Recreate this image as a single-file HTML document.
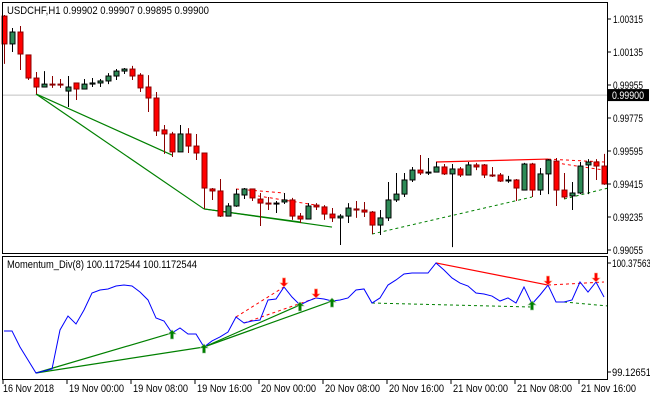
<!DOCTYPE html>
<html><head><meta charset="utf-8"><style>
html,body{margin:0;padding:0;background:#fff;}
svg{display:block;font-family:"Liberation Sans",sans-serif;}
</style></head><body>
<svg id="chart" width="650" height="400" viewBox="0 0 650 400" xmlns="http://www.w3.org/2000/svg">
<rect x="0" y="0" width="650" height="400" fill="#fff"/>
<g id="price-grid"></g>
<g id="ind"></g>
<rect x="2.5" y="2.5" width="605" height="251" fill="none" stroke="#000"/>
<rect x="2.5" y="256.5" width="605" height="123" fill="none" stroke="#000"/>
<text x="7" y="14" font-size="11" fill="#000" textLength="202" lengthAdjust="spacingAndGlyphs">USDCHF,H1  0.99902 0.99907 0.99895 0.99900</text>
<text x="7" y="268" font-size="11" fill="#000" textLength="190" lengthAdjust="spacingAndGlyphs">Momentum_Div(8) 100.1172544 100.1172544</text>
<g id="axes"></g>
</svg>
<script>
const opens=[100331,100179,100244,100119,99993,99944,99960,99960,99922,99966,99933,99960,99966,99977,100004,100031,100042,100009,99944,99884,99710,99688,99590,99688,99622,99584,99388,99377,99240,99295,99355,99388,99333,99311,99311,99317,99328,99240,99224,99300,99290,99251,99230,99240,99279,99273,99262,99191,99230,99328,99360,99437,99491,99480,99480,99508,99470,99497,99464,99519,99519,99464,99464,99437,99437,99382,99524,99382,99470,99540,99382,99350,99366,99519,99535,99513];
const highs=[100337,100266,100277,100119,100026,100031,100004,99988,100004,99966,99988,99993,99988,100020,100042,100048,100059,100020,100009,99917,99737,99699,99737,99720,99688,99584,99393,99442,99311,99388,99393,99388,99366,99344,99322,99366,99339,99257,99311,99311,99300,99284,99251,99311,99322,99317,99268,99273,99426,99475,99475,99508,99573,99557,99535,99524,99524,99508,99535,99530,99524,99508,99475,99459,99442,99530,99530,99502,99551,99557,99475,99426,99535,99551,99551,99579];
const lows=[100070,100135,100037,99982,99906,99944,99939,99939,99835,99873,99933,99944,99944,99960,99982,100015,99982,99917,99808,99677,99579,99562,99590,99584,99546,99279,99328,99235,99240,99290,99333,99322,99186,99273,99257,99306,99219,99202,99224,99273,99219,99208,99082,99202,99230,99235,99142,99137,99213,99317,99344,99426,99464,99464,99480,99464,99071,99453,99464,99491,99448,99453,99426,99421,99322,99382,99344,99355,99360,99295,99333,99273,99360,99360,99437,99410];
const closes=[100179,100244,100124,99993,99944,99960,99955,99955,99944,99933,99960,99966,99977,100004,100031,100042,100004,99939,99884,99704,99688,99590,99688,99622,99584,99393,99377,99240,99295,99360,99388,99339,99311,99306,99311,99328,99240,99224,99295,99290,99251,99230,99240,99284,99273,99262,99191,99230,99328,99360,99437,99491,99475,99480,99508,99470,99497,99464,99519,99508,99464,99459,99431,99437,99393,99524,99382,99470,99546,99382,99344,99366,99513,99535,99513,99415];
const momentum=[99.597,99.597,99.413,99.264,99.115,99.138,99.161,99.608,99.768,99.677,99.837,100.032,100.066,100.078,100.112,100.123,100.112,100.043,99.952,99.745,99.711,99.574,99.631,99.562,99.562,99.413,99.482,99.528,99.585,99.757,99.688,99.711,99.722,99.952,99.963,100.101,99.986,99.895,99.940,99.975,99.963,99.940,99.952,99.975,100.066,100.078,99.917,99.975,100.123,100.181,100.250,100.261,100.261,100.261,100.376,100.295,100.204,100.146,100.112,100.032,100.020,99.997,99.940,99.975,99.917,100.101,99.906,100.009,100.123,99.929,99.929,99.952,100.158,100.043,100.158,99.986];
const priceTicks=[1.00315,1.00135,0.99955,0.99775,0.99595,0.99415,0.99235,0.99055];
const timeLabels=["16 Nov 2018","19 Nov 00:00","19 Nov 08:00","19 Nov 16:00","20 Nov 00:00","20 Nov 08:00","20 Nov 16:00","21 Nov 00:00","21 Nov 08:00","21 Nov 16:00"];
const timeIndex=[0,8,16,24,32,40,48,56,64,72];
const bidPrice=0.99900;
const priceGreenSolid=[[4,0.99906,21,0.99573],[4,0.99906,25,0.99279],[25,0.99279,37,0.99208],[25,0.99279,41,0.99180]];
const priceGreenDash=[[46,0.99142,66,0.99344],[70,0.99333,75.5,0.99393]];
const priceRedDash=[[29,0.99388,35,0.99366],[31,0.99355,39,0.99300],[68,0.99551,75,0.99535],[69,0.99530,75,0.99491]];
const priceRedSolid=[[54,0.99535,68,0.99551]];
const momGreenSolid=[[4,99.115,21,99.574],[4,99.115,25,99.413],[25,99.413,37,99.895],[25,99.413,41,99.940]];
const momGreenDash=[[46,99.917,66,99.871],[70,99.929,75.5,99.883]];
const momRedDash=[[29,99.757,35,100.101],[30,99.688,39,99.975],[68,100.123,75,100.158]];
const momRedSolid=[[54,100.376,68,100.123]];
const upArrows=[21,25,37,41,66];
const downArrows=[35,39,68,74];

const NS="http://www.w3.org/2000/svg";
const xOf=i=>4+8*i;
const yP=p=>19+(1.00315-p)/0.0018*33;
const yM=m=>263+(100.37563-m)/1.24912*109;
function mk(tag,attrs,parent){const e=document.createElementNS(NS,tag);for(const k in attrs)e.setAttribute(k,attrs[k]);parent.appendChild(e);return e;}
const pg=document.getElementById('price-grid');
const ind=document.getElementById('ind');
const ax=document.getElementById('axes');

let bl=mk('line',{x1:3,x2:607,y1:yP(bidPrice),y2:yP(bidPrice),stroke:'#c0c0c0'},pg);



function drawLines(arr,yf,color,dash,width,parent,name){
  arr.forEach(l=>{
    const e=mk('line',{x1:xOf(l[0]),y1:yf(l[1]),x2:xOf(l[2]),y2:yf(l[3]),stroke:color,'stroke-width':width},parent);
    if(dash)e.setAttribute('stroke-dasharray',dash);
    
    
  });
}
drawLines(priceGreenSolid,yP,'#008000',null,1.2,pg,'bullish-divergence-line');
drawLines(priceGreenDash,yP,'#008000','3,3',1,pg,'hidden-bullish-divergence-line');
drawLines(priceRedDash,yP,'#ff0000','3,3',1,pg,'hidden-bearish-divergence-line');
drawLines(priceRedSolid,yP,'#ff0000',null,1.2,pg,'bearish-divergence-line');

for(let i=0;i<opens.length;i++){
  const o=opens[i]/1e5,c=closes[i]/1e5,h=highs[i]/1e5,l=lows[i]/1e5,x=xOf(i);
  const up=c>o, doji=Math.abs(c-o)<0.00001;
  const wick=mk('line',{x1:x+0.5,x2:x+0.5,y1:yP(h),y2:yP(l),stroke:up||doji?'#000':'#8b0000'},pg);
  
  
  const top=yP(Math.max(o,c)),bot=yP(Math.min(o,c));
  const b=mk('rect',{x:x-2,y:top,width:5,height:Math.max(1,bot-top),fill:doji?'#000':(up?'#2e8b57':'#ff0000'),stroke:doji?'#000':(up?'#000':'#8b0000'),'stroke-width':1},pg);
  
  
}

drawLines(momGreenSolid,yM,'#008000',null,1.2,ind,'bullish-divergence-line');
drawLines(momGreenDash,yM,'#008000','3,3',1,ind,'hidden-bullish-divergence-line');
drawLines(momRedDash,yM,'#ff0000','3,3',1,ind,'hidden-bearish-divergence-line');
drawLines(momRedSolid,yM,'#ff0000',null,1.2,ind,'bearish-divergence-line');
const pl=mk('polyline',{points:momentum.map((m,i)=>xOf(i)+','+yM(m)).join(' '),fill:'none',stroke:'#0000ff','stroke-width':1},ind);


upArrows.forEach(i=>{
  const x=xOf(i),y=yM(momentum[i]);
  const g=mk('path',{d:`M${x} ${y-3} l-4 4 h2.5 v5 h3 v-5 h2.5 z`,fill:'#008000',stroke:'#8fbc8f','stroke-width':0.6},ind);
  
  
});
downArrows.forEach(i=>{
  const x=xOf(i),y=yM(momentum[i]);
  const g=mk('path',{d:`M${x} ${y} l-4 -4 h2.5 v-5 h3 v5 h2.5 z`,fill:'#ff0000',stroke:'#ffa07a','stroke-width':0.6},ind);
  
  
});

priceTicks.forEach(p=>{
  const y=yP(p);
  const t=mk('line',{x1:607,x2:611,y1:y,y2:y,stroke:'#000'},ax);
  
  
  const tx=mk('text',{x:613,y:y+4,'font-size':11,fill:'#000',textLength:30,lengthAdjust:'spacingAndGlyphs'},ax);
  tx.textContent=p.toFixed(5);
  
  
});
const by=yP(bidPrice);
const bb=mk('rect',{x:608,y:by-6,width:41,height:12,fill:'#000'},ax);


const bt=mk('text',{x:612,y:by+4,'font-size':11,fill:'#fff',textLength:32,lengthAdjust:'spacingAndGlyphs'},ax);
bt.textContent=bidPrice.toFixed(5);



[100.37563,99.12651].forEach(v=>{
  const y=yM(v);
  const t=mk('line',{x1:607,x2:611,y1:y,y2:y,stroke:'#000'},ax);
  
  
  const tx=mk('text',{x:612,y:y+4,'font-size':11,fill:'#000',textLength:39,lengthAdjust:'spacingAndGlyphs'},ax);
  tx.textContent=v.toFixed(5);
  
  
});

timeLabels.forEach((s,k)=>{
  const x=xOf(timeIndex[k]);
  const t=mk('line',{x1:x-1,x2:x-1,y1:380,y2:384,stroke:'#000'},ax);
  
  
  const tx=mk('text',{x:k===0?3:x+1,y:392,'font-size':11,fill:'#000',textLength:k===0?51:55,lengthAdjust:'spacingAndGlyphs'},ax);
  tx.textContent=s;
  
  
});
</script>
</body></html>
